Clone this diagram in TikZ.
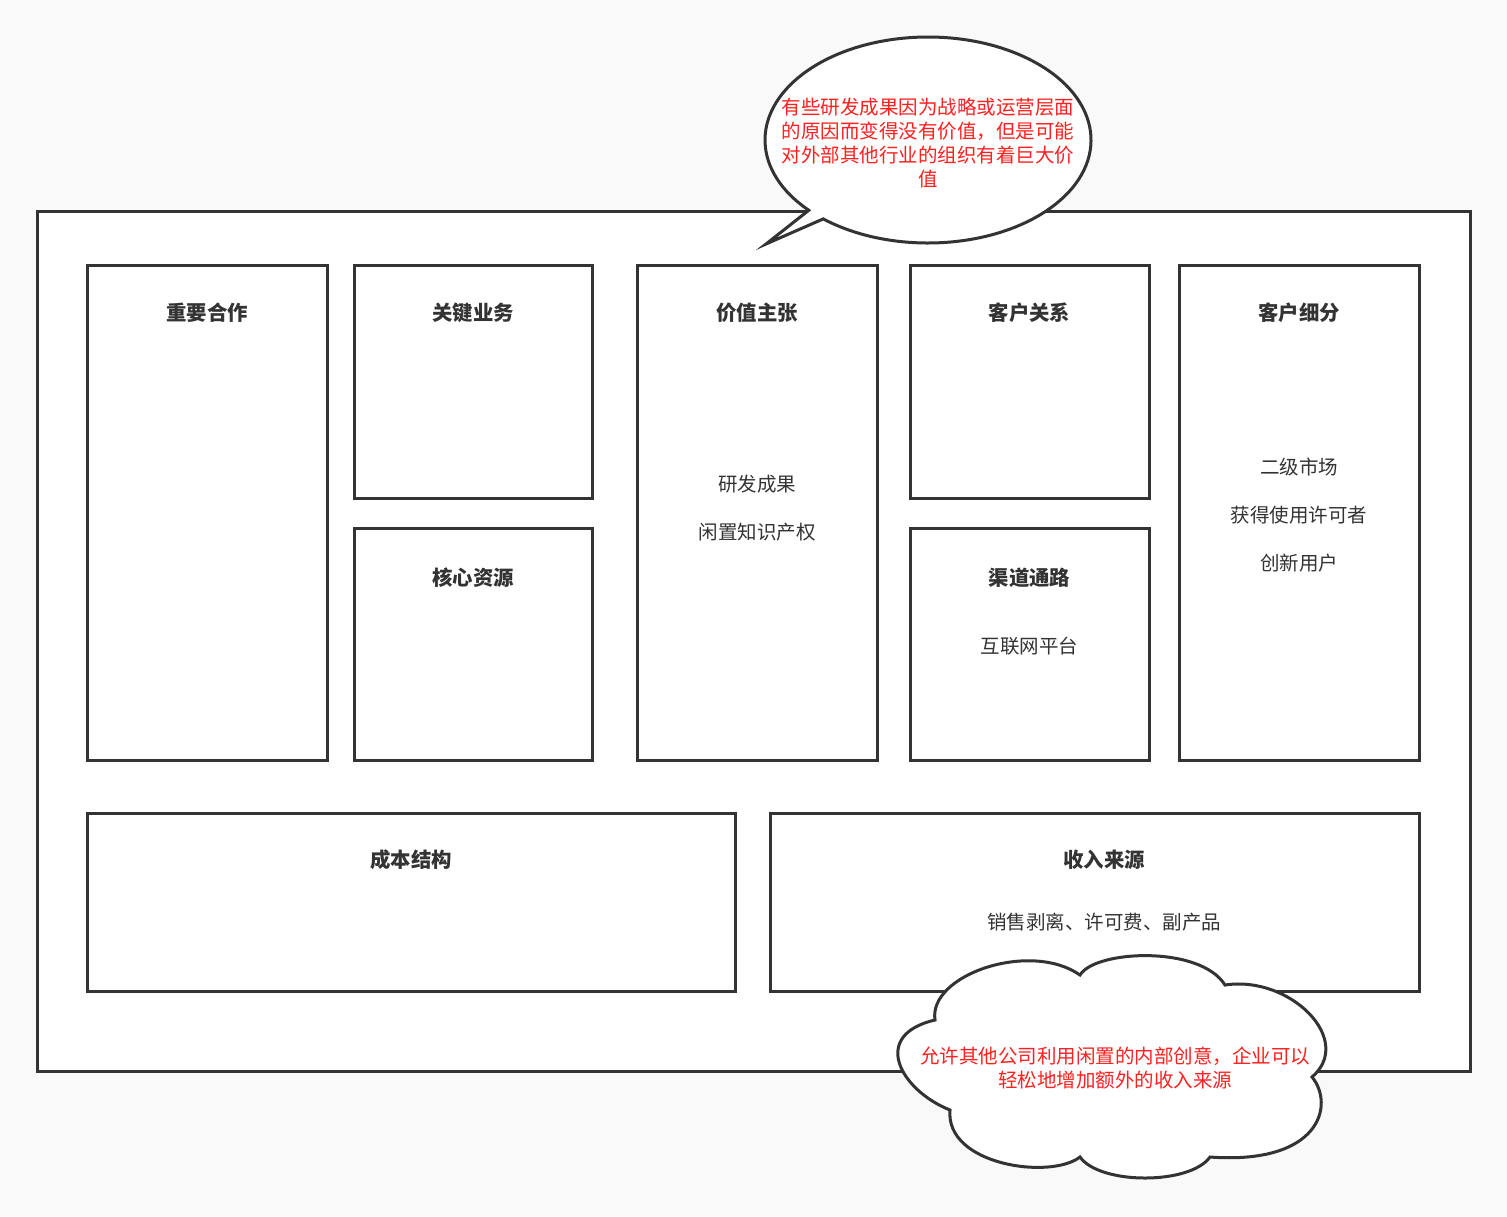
\documentclass[tikz,border=0pt]{standalone}
\usepackage{fontspec}
\setmainfont{Noto Sans CJK SC}
\usepackage{tikz}
\usetikzlibrary{positioning,calc}
\definecolor{linegray}{HTML}{333333}
\definecolor{bggray}{HTML}{F9F9F9}
\definecolor{notered}{HTML}{FF2020}

\begin{document}
\begin{tikzpicture}[x=0.5pt,y=-0.5pt]
\tikzset{box/.style={draw=linegray,line width=1.5pt,inner sep=0pt},
  title/.style={text=linegray,font=\fontsize{10.2}{12}\selectfont\bfseries},
  item/.style={text=linegray,font=\fontsize{9.75}{12}\selectfont},
  note/.style={text=notered,font=\fontsize{9.75}{12}\selectfont,align=center}}
\useasboundingbox (0,0) rectangle (1507,1216);
\fill[bggray] (0,0) rectangle (1507,1216);

% canvas
\node[box,fill=white,minimum width=716.5pt,minimum height=430pt] (canvas) at (753.5,641) {};

% upper row
\node[box,minimum width=120pt,minimum height=247.5pt] (kp) at (207,512.5) {};
\node[box,minimum width=119pt,minimum height=116.5pt] (ka) at (473,381.5) {};
\node[box,minimum width=119pt,minimum height=116pt] (kr) at (473,644) {};
\node[box,minimum width=120pt,minimum height=247.5pt] (vp) at (757,512.5) {};
\node[box,minimum width=119.5pt,minimum height=116.5pt] (cr) at (1029.5,381.5) {};
\node[box,minimum width=119.5pt,minimum height=116pt] (ch) at (1029.5,644) {};
\node[box,minimum width=120pt,minimum height=247.5pt] (cs) at (1299,512.5) {};
% lower row
\node[box,minimum width=324pt,minimum height=89pt] (cost) at (411,902) {};
\node[box,minimum width=324.5pt,minimum height=89pt] (rev) at (1094.5,902) {};

\node[title] (kpT) at (207,313) {重要合作};
\node[title] (kaT) at (473,313) {关键业务};
\node[title] (krT) at (473,578) {核心资源};
\node[title] (vpT) at (757,313) {价值主张};
\node[item] (vp1) at (757,484) {研发成果};
\node[item] (vp2) at (757,532) {闲置知识产权};
\node[title] (crT) at (1029.5,313) {客户关系};
\node[title] (chT) at (1029.5,578) {渠道通路};
\node[item] (ch1) at (1029.5,646) {互联网平台};
\node[title] (csT) at (1299,313) {客户细分};
\node[item] (cs1) at (1299,467) {二级市场};
\node[item] (cs2) at (1299,515) {获得使用许可者};
\node[item] (cs3) at (1299,563) {创新用户};
\node[title] (costT) at (411,860) {成本结构};
\node[title] (revT) at (1104,860) {收入来源};
\node[item] (rev1) at (1104,922) {销售剥离、许可费、副产品};

% speech bubble
\coordinate (bc) at (928,140);
\coordinate (tip) at (766,244);
\draw[linegray,fill=white,line width=1.5pt,line join=miter]
  ($(bc)+(137:163 and 103)$) -- (tip) -- ($(bc)+(130:163 and 103)$)
  arc[start angle=130,end angle=-223,x radius=163,y radius=103] -- cycle;
\node[note] (bubble) at (928,143) {有些研发成果因为战略或运营层面\\的原因而变得没有价值，但是可能\\对外部其他行业的组织有着巨大价\\值};

% cloud
\draw[linegray,fill=white,line width=1.5pt]
  (935,1020) .. controls (928,975) and (1030,940) .. (1080,975)
  .. controls (1095,950) and (1200,945) .. (1225,985)
  .. controls (1290,975) and (1355,1040) .. (1312,1077)
  .. controls (1335,1105) and (1320,1165) .. (1210,1157)
  .. controls (1190,1185) and (1100,1185) .. (1080,1157)
  .. controls (1050,1180) and (945,1165) .. (950,1110)
  .. controls (900,1090) and (870,1035) .. cycle;
\node[note] (cloud) at (1115,1068) {允许其他公司利用闲置的内部创意，企业可以\\轻松地增加额外的收入来源};
\end{tikzpicture}
\end{document}
